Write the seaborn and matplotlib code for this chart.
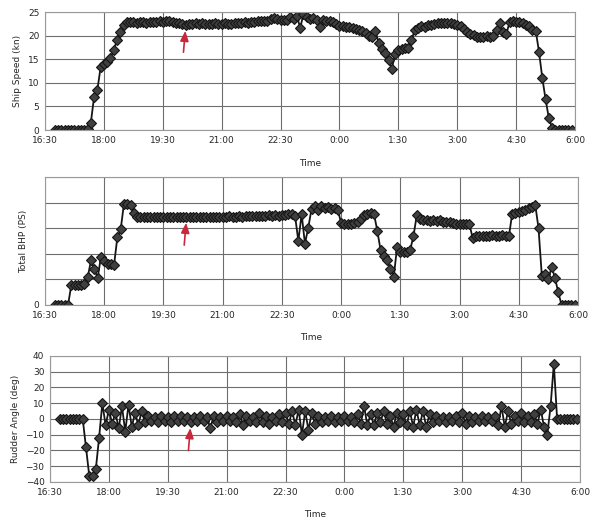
import numpy as np
import pandas as pd
import matplotlib
matplotlib.use("Agg")
import matplotlib.pyplot as plt
import seaborn as sns

# samples every 5 min, first one at 16:45 (hours, past midnight = 24+)
t_start = 16.75
t_step = 5 / 60

# ship speed (kn), one row per hour
speed = [
    0, 0, 0, 0, 0, 0, 0, 0, 0, 0, 0.3, 1.5,
    7.0, 8.5, 13.3, 14.0, 14.4, 15.2, 17.0, 19.0, 20.8, 22.3, 22.9, 22.9,
    22.8, 22.7, 22.8, 22.9, 22.7, 22.8, 22.8, 22.9, 23.0, 22.9, 23.1, 23.0,
    22.9, 22.7, 22.6, 22.4, 22.3, 22.5, 22.4, 22.6, 22.5, 22.6, 22.5, 22.4,
    22.5, 22.6, 22.4, 22.5, 22.6, 22.5, 22.4, 22.6, 22.7, 22.6, 22.8, 22.7,
    22.8, 22.9, 23.0, 23.0, 23.1, 23.2, 23.6, 23.8, 23.5, 23.3, 23.4, 23.3,
    24.0, 23.6, 24.2, 21.6, 24.6, 24.0, 23.6, 23.8, 23.4, 21.8, 23.4, 23.2,
    23.0, 22.8, 22.4, 22.0, 22.1, 21.8, 21.9, 21.6, 21.4, 21.2, 21.0, 20.5,
    20.0, 19.7, 20.9, 18.5, 17.2, 16.3, 14.8, 13.0, 16.0, 17.0, 17.1, 17.3,
    17.4, 19.0, 21.2, 21.6, 22.0, 21.9, 22.2, 22.3, 22.5, 22.6, 22.7, 22.6,
    22.7, 22.6, 22.5, 22.3, 22.0, 21.5, 20.8, 20.4, 20.2, 19.8, 19.6, 19.7,
    19.9, 19.6, 20.0, 21.2, 22.6, 20.8, 20.4, 22.8, 23.0, 22.9, 22.8, 22.6,
    22.3, 22.0, 21.2, 21.0, 16.5, 11.0, 6.5, 2.5, 0.5, 0, 0, 0,
    0, 0, 0,
]

# total BHP (PS)
bhp = [
    0, 0, 0, 0, 0, 7800, 7800, 7900, 7800, 8000, 11000, 17500,
    14000, 10500, 18800, 17000, 16200, 16000, 15800, 26500, 29500, 39600, 39500, 39000,
    36000, 34400, 34300, 34200, 34400, 34300, 34200, 34300, 34400, 34200, 34300, 34200,
    34300, 34200, 34400, 34300, 34200, 34300, 34400, 34200, 34300, 34400, 34300, 34400,
    34300, 34500, 34400, 34500, 34400, 34600, 34500, 34400, 34600, 34500, 34700, 34600,
    34700, 34600, 34800, 34700, 34900, 35000, 34800, 35200, 34900, 35300, 35000, 35700,
    35500, 34800, 25000, 35500, 24000, 30000, 37500, 38500, 37000, 38800, 37800, 38300,
    37600, 38000, 37200, 32000, 31500, 31800, 31600, 32200, 32500, 33500, 35000, 35500,
    35800, 35500, 29000, 21400, 19000, 17500, 14000, 11000, 22500, 20800, 20500, 20800,
    21500, 27000, 35000, 33500, 33000, 33200, 32900, 33100, 32800, 33000, 32600, 32400,
    32300, 31900, 31800, 31700, 31800, 31700, 31600, 26000, 26800, 27000, 26900, 27100,
    27000, 27200, 26900, 27100, 27200, 27000, 26800, 35700, 36000, 36300, 36800, 37200,
    37800, 38300, 39200, 30000, 11500, 12000, 10000, 15000, 10500, 5000, 0, 0,
    0, 0, 0,
]

# rudder angle (deg)
rudder = [
    0, 0, 0, 0, 0, 0, 0, 0, -18, -36, -36, -32,
    -12, 10, -4, 6, -3, 4, -6, 8, -8, 9, -5, 4,
    -4, 5, -2, 2, -1, 1, -2, 2, -1, 1, -2, 2,
    -1, 2, -1, 1, -2, 1, -1, 2, -1, 1, -6, 2,
    -2, 1, -1, 2, -1, 1, -2, 3, -4, 2, -1, 1,
    -2, 4, -2, 2, -3, 1, -1, 3, -2, 4, -3, 5,
    -4, 6, -10, 5, -7, 4, -3, 2, -2, 1, -1, 2,
    -2, 1, -1, 2, -1, 1, -2, 3, -3, 8, -4, 3,
    -4, 4, -2, 5, -3, 2, -5, 4, -2, 3, -4, 5,
    -5, 6, -4, 5, -5, 3, -2, 2, -1, 1, -2, 1,
    -1, 2, -2, 4, -3, 2, -2, 1, -1, 2, -1, 1,
    -1, 2, -4, 8, -5, 5, -3, 2, -1, 4, -2, 2,
    -2, 3, -3, 6, -5, -10, 8, 35, 0, 0, 0, 0,
    0, 0, 0,
]

xticks = [16.5, 18.0, 19.5, 21.0, 22.5, 24.0, 25.5, 27.0, 28.5, 30.0]
xtick_labels = ["16:30", "18:00", "19:30", "21:00", "22:30", "0:00", "1:30", "3:00", "4:30", "6:00"]

times = t_start + np.arange(len(speed)) * t_step
df = pd.DataFrame({"Time": times, "speed": speed, "bhp": bhp, "rudder": rudder})

sns.set_style("white")
plt.rcParams["font.family"] = ["DejaVu Sans"]

fig = plt.figure(figsize=(5.93, 5.2), dpi=100)
ax1 = fig.add_axes([0.0759, 0.75, 0.8938, 0.2269])
ax2 = fig.add_axes([0.0759, 0.4135, 0.8988, 0.2462])
ax3 = fig.add_axes([0.0843, 0.0731, 0.8938, 0.2423])

mk = dict(marker="D", markersize=5.6, markerfacecolor="#404040",
          markeredgecolor="#151515", markeredgewidth=0.8,
          color="#151515", linewidth=1.3)

sns.lineplot(data=df, x="Time", y="speed", ax=ax1, **mk)
sns.lineplot(data=df, x="Time", y="bhp", ax=ax2, **mk)
sns.lineplot(data=df, x="Time", y="rudder", ax=ax3, **mk)

ax1.set_ylim(0, 25)
ax1.set_yticks([0, 5, 10, 15, 20, 25])
ax1.set_ylabel("Ship Speed (kn)")

ax2.set_ylim(0, 50000)
ax2.set_yticks([0, 10000, 20000, 30000, 40000, 50000])
ax2.set_yticklabels(["0", "", "", "", "", ""])
ax2.set_ylabel("Total BHP (PS)")

ax3.set_ylim(-40, 40)
ax3.set_yticks(range(-40, 41, 10))
ax3.set_ylabel("Rudder Angle (deg)")

# red arrows at the same instant in every panel
arrows = [(ax1, 15.9, 21.6), (ax2, 22300, 33200), (ax3, -21.8, -4)]
for ax, y0, y1 in arrows:
    ax.annotate("", xy=(20.08, y1), xytext=(20.02, y0),
                arrowprops=dict(arrowstyle="-|>,head_width=0.25,head_length=0.6",
                                color="#c8283c", lw=1.2))

for ax in (ax1, ax2, ax3):
    ax.set_xlim(16.5, 30.0)
    ax.set_xticks(xticks)
    ax.set_xticklabels(xtick_labels)
    ax.set_xlabel("Time", fontsize=6.5)
    ax.yaxis.label.set_size(6.5)
    ax.tick_params(labelsize=6.5, length=0, pad=4)
    ax.grid(True, color="#6e6e6e", linewidth=0.8)
    ax.set_axisbelow(True)
    for s in ax.spines.values():
        s.set_color("#9a9a9a")
        s.set_linewidth(0.8)

ax1.xaxis.set_label_coords(0.5, -0.25)
ax2.xaxis.set_label_coords(0.5, -0.22)
ax3.xaxis.set_label_coords(0.5, -0.22)

fig.savefig("out.png", dpi=100, facecolor="white")
